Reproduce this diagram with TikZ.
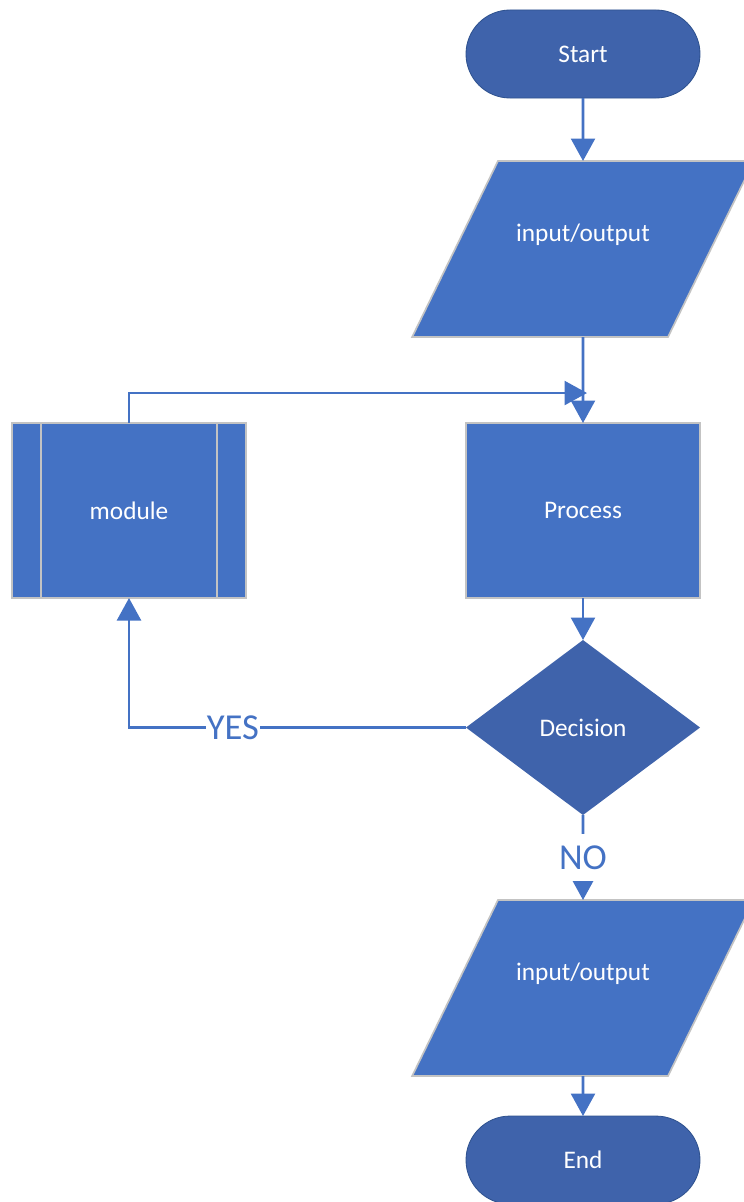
\documentclass[tikz,border=0pt]{standalone}
\usepackage{fontspec}
\setmainfont{Carlito}
\usepackage{tikz}
\usetikzlibrary{shapes, arrows.meta, positioning, calc}

\definecolor{fcblue}{HTML}{4472C4}
\definecolor{fcdark}{HTML}{3F63AB}
\definecolor{fcedge}{HTML}{2F528F}
\definecolor{fcgray}{HTML}{C3C3C3}

\begin{document}
\begin{tikzpicture}[
    term/.style={rectangle, draw=fcedge, line width=0.6pt, fill=fcdark, rounded corners=1.1cm,
                 text=white, font=\fontsize{18}{21}\selectfont, minimum width=5.85cm,
                 minimum height=2.2cm, outer sep=0pt},
    iobox/.style={trapezium, trapezium left angle=64, trapezium right angle=116,
                  draw=fcgray, line width=1.2pt, fill=fcblue, text=white,
                  font=\fontsize{18}{21}\selectfont, text width=4.25cm, align=center,
                  text height=2.0cm, text depth=2.4cm, inner sep=0pt, outer sep=0pt},
    pbox/.style={rectangle, draw=fcgray, line width=1.2pt, fill=fcblue, text=white,
                 font=\fontsize{18}{21}\selectfont, minimum width=5.85cm,
                 minimum height=4.375cm, outer sep=0pt},
    dbox/.style={diamond, fill=fcdark, text=white, font=\fontsize{18}{21}\selectfont,
                 minimum width=5.85cm, minimum height=4.375cm, inner sep=0pt, outer sep=0pt},
    arr/.style={-{Triangle[length=16pt, width=17pt]}, line width=2pt, color=fcblue},
    lbl/.style={fill=white, text=fcblue, font=\fontsize{26}{30}\selectfont,
                inner xsep=0.5pt, inner ysep=0pt, text height=25pt, text depth=8.5pt},
]
\useasboundingbox (0,0) rectangle (18.575,-30.05);

% Main column
\node[term] (start) at (14.575,-1.35) {Start};
\node[iobox, below=1.575cm of start] (io1) {input/output};
\node[pbox, below=2.15cm of io1] (proc) {Process};
\node[dbox, below=1.05cm of proc] (dec) {Decision};
\node[iobox, below=2.125cm of dec] (io2) {input/output};
\node[term, below=1.0cm of io2] (end) {End};

% Side module
\node[pbox, left=5.5cm of proc] (mod) {module};
\draw[fcgray, line width=1.2pt] ([xshift=0.72cm]mod.north west) -- ([xshift=0.72cm]mod.south west);
\draw[fcgray, line width=1.2pt] ([xshift=-0.72cm]mod.north east) -- ([xshift=-0.72cm]mod.south east);

% Arrows
\coordinate (join) at ([xshift=0.1cm, yshift=0.75cm]proc.north);
\draw[arr] (start) -- (io1);
\draw[arr] (io1) -- (proc);
\draw[arr] (mod.north) |- (join);
\draw[arr] (proc) -- (dec);
\draw[arr] (dec.west) -| node[lbl, pos=0.346] {YES} (mod.south);
\draw[arr] (dec) -- node[lbl] {NO} (io2);
\draw[arr] (io2) -- (end);
\end{tikzpicture}
\end{document}
